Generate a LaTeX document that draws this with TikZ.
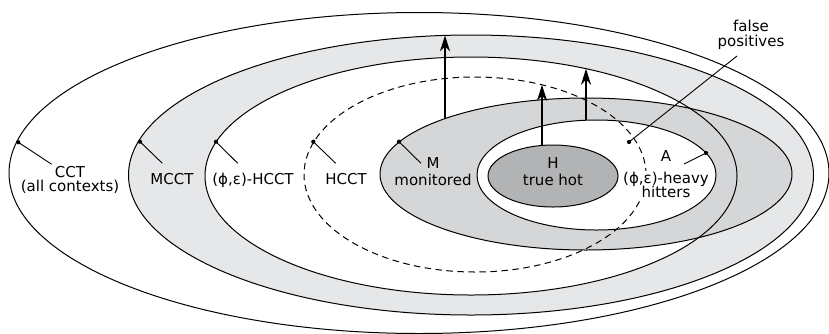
\documentclass[tikz,border=0pt]{standalone}
\usepackage{fontspec}
\setmainfont{DejaVu Sans}
\usetikzlibrary{arrows.meta}
\definecolor{bandgray}{RGB}{230,231,233}
\definecolor{mongray}{RGB}{213,214,216}
\definecolor{hotgray}{RGB}{178,179,181}
\begin{document}
\begin{tikzpicture}[x=1pt,y=-1pt,
  outline/.style={line width=1.0pt},
  lbl/.style={anchor=base,inner sep=0pt,font=\fontsize{15}{16}\selectfont},
  masked/.style={lbl,fill=white,inner sep=0.6pt},
  leader/.style={line width=0.9pt},
  dotmark/.style={fill=black},
  uparrow/.style={line width=2pt,-{Stealth[length=16pt,width=10pt,inset=5pt]}}
]
\useasboundingbox (0,0) rectangle (829,333);
% centres
\coordinate (cctc) at (419,173);
\coordinate (mcctc) at (471,175);
\coordinate (phc) at (471,176);
\coordinate (hcctc) at (475,174.5);
\coordinate (mc) at (586,174);
\coordinate (ac) at (596.5,175);
\coordinate (hc) at (553,176);
% fills
\fill[white] (cctc) ellipse [x radius=410pt,y radius=160.5pt];
\fill[bandgray] (mcctc) ellipse [x radius=342.5pt,y radius=140pt];
\fill[white] (phc) ellipse [x radius=266pt,y radius=119pt];
\fill[mongray] (mc) ellipse [x radius=206pt,y radius=76pt];
\fill[white] (ac) ellipse [x radius=119.5pt,y radius=55pt];
\fill[hotgray] (hc) ellipse [x radius=65pt,y radius=31pt];
% outlines
\draw[outline] (cctc) ellipse [x radius=410pt,y radius=160.5pt];
\draw[outline] (mcctc) ellipse [x radius=342.5pt,y radius=140pt];
\draw[outline] (phc) ellipse [x radius=266pt,y radius=119pt];
\draw[outline] (mc) ellipse [x radius=206pt,y radius=76pt];
\draw[outline] (ac) ellipse [x radius=119.5pt,y radius=55pt];
\draw[outline] (hc) ellipse [x radius=65pt,y radius=31pt];
\draw[outline,dash pattern=on 6.5pt off 4.5pt] (hcctc) ellipse [x radius=171pt,y radius=97.5pt];
% arrows
\coordinate (a1s) at (445,118.6); \coordinate (a1e) at (445,35.4);
\coordinate (a2s) at (542,145.4); \coordinate (a2e) at (542,84.8);
\coordinate (a3s) at (586,120.2); \coordinate (a3e) at (586,68.7);
\draw[uparrow] (a1s) -- (a1e);
\draw[uparrow] (a2s) -- (a2e);
\draw[uparrow] (a3s) -- (a3e);
% labels
\node[lbl] (cct1) at (70,177.3) {CCT};
\node[lbl] (cct2) at (70,191.5) {(all contexts)};
\node[lbl] (mcct) at (172,184.3) {MCCT};
\node[lbl] (phcct) at (253,184.3) {(ϕ,ε)-HCCT};
\node[lbl] (hcct) at (346,184.3) {HCCT};
\node[lbl] (m1) at (433,168.3) {M};
\node[lbl] (m2) at (433,185) {monitored};
\node[lbl] (h1) at (553,168.3) {H};
\node[lbl] (h2) at (553,185) {true hot};
\node[lbl] (a1) at (666,161.7) {A};
\node[masked] (a2) at (666,183) {(ϕ,ε)-heavy};
\node[masked] (a3) at (666,197) {hitters};
\node[lbl] (fp1) at (751,31.7) {false};
\node[lbl] (fp2) at (751,46) {positives};
% leader lines
\coordinate (dcct) at (18.3,142.3);   \coordinate (ecct) at (51.7,164.3);
\coordinate (dmcct) at (140,141.7);   \coordinate (emcct) at (162.3,163.3);
\coordinate (dph) at (216,141.7);     \coordinate (eph) at (237.7,163.3);
\coordinate (dhcct) at (313.3,141.7); \coordinate (ehcct) at (335.7,163.3);
\coordinate (dm) at (399,141.7);      \coordinate (em) at (421,163.3);
\coordinate (da) at (706,153);        \coordinate (ea) at (684,164);
\coordinate (dfp) at (629,142);       \coordinate (efp) at (737,56);
\foreach \d/\e in {dcct/ecct,dmcct/emcct,dph/eph,dhcct/ehcct,dm/em,da/ea,dfp/efp}{
  \draw[leader] (\d) -- (\e);
  \fill[dotmark] (\d) circle [radius=2.1pt];
}
\end{tikzpicture}
\end{document}
